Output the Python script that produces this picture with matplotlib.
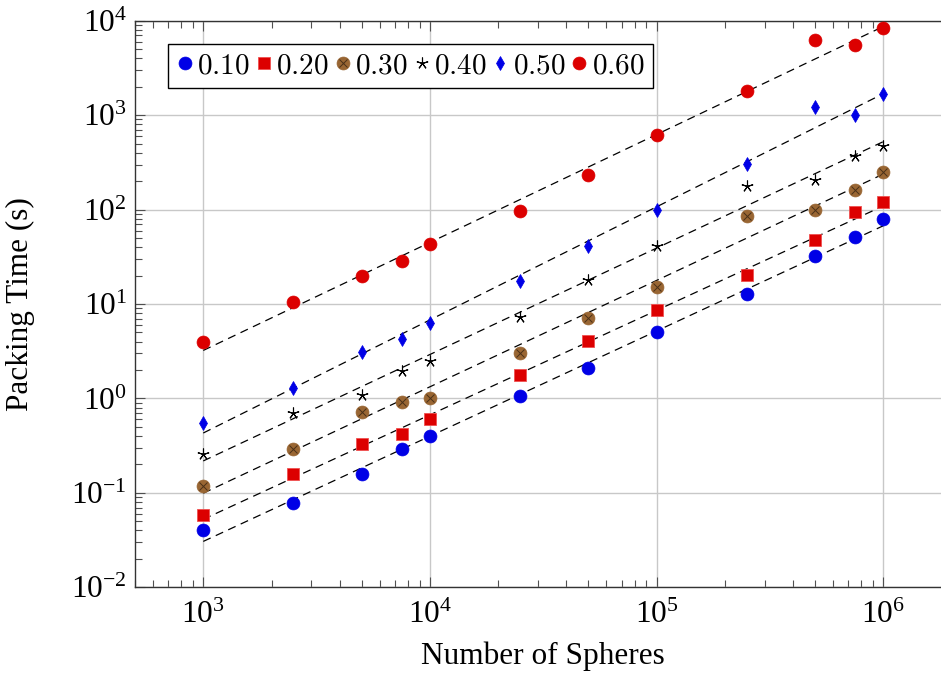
import numpy as np
import matplotlib
matplotlib.use("Agg")
import matplotlib.pyplot as plt
from matplotlib.ticker import (LogLocator, LogFormatterMathtext, NullFormatter,
                               FixedLocator)
from matplotlib.legend_handler import HandlerTuple

plt.rcParams["mathtext.fontset"] = "cm"
plt.rcParams["font.family"] = ["Liberation Serif", "DejaVu Serif"]

# Number of spheres in each packing run
n_spheres = [1000, 2500, 5000, 7500, 10000, 25000, 50000, 100000,
             250000, 500000, 750000, 1000000]

# Packing time (s) for each packing fraction
t_010 = [0.040, 0.079, 0.158, 0.295, 0.40, 1.07, 2.08, 5.1, 12.7, 32.4, 50.7, 80]
t_020 = [0.059, 0.158, 0.326, 0.416, 0.60, 1.78, 4.04, 8.6, 20.2, 47.5, 93.4, 120]
t_030 = [0.119, 0.295, 0.71, 0.906, 1.02, 3.0, 7.1, 15.2, 86, 99.5, 161, 251]
t_040 = [0.257, 0.70, 1.10, 1.96, 2.48, 7.2, 17.9, 41.4, 179, 205, 371, 474]
t_050 = [0.55, 1.28, 3.07, 4.22, 6.32, 17.6, 41, 98.8, 303, 1227, 1002, 1686]
t_060 = [3.98, 10.5, 19.8, 28.5, 43.4, 95.7, 232, 620, 1813, 6250, 5520, 8440]

labels = ["0.10", "0.20", "0.30", "0.40", "0.50", "0.60"]

# decade ticks on each axis
x_ticks = [1e3, 1e4, 1e5, 1e6]
y_ticks = [1e-2, 1e-1, 1e0, 1e1, 1e2, 1e3, 1e4]

BLUE = "#0000e6"
RED = "#dc0000"
BROWN = "#996633"

fig = plt.figure(figsize=(9.41, 6.74), dpi=100)
ax = fig.add_axes([0.1435, 0.1286, 0.8677, 0.8407])
ax.set_xscale("log")
ax.set_yscale("log")
ax.set_xlim(500, 2e6)
ax.set_ylim(1e-2, 1e4)

x = np.array(n_spheres, dtype=float)
series = [t_010, t_020, t_030, t_040, t_050, t_060]

# power-law fit per series (straight line in log-log)
xfit = np.array([x.min(), x.max()])
for ys in series:
    p = np.polyfit(np.log10(x), np.log10(ys), 1)
    ax.plot(xfit, 10 ** np.polyval(p, np.log10(xfit)), color="black",
            lw=0.9, ls=(0, (6.5, 4.5)), zorder=2)

h1, = ax.plot(x, t_010, ls="none", marker="o", ms=9.3, mfc=BLUE, mec=BLUE,
              mew=0.5, zorder=3)
h2, = ax.plot(x, t_020, ls="none", marker="s", ms=8.4, mfc=RED, mec="#f05050",
              mew=0.6, zorder=3)
h3a, = ax.plot(x, t_030, ls="none", marker="o", ms=9.3, mfc=BROWN, mec=BROWN,
               mew=0.5, zorder=3)
h3b, = ax.plot(x, t_030, ls="none", marker="x", ms=5.5, mec="#4a3018",
               mew=0.7, zorder=4)
h4, = ax.plot(x, t_040, ls="none", marker=(5, 2, 0), ms=8.5, mec="black",
              mew=0.8, zorder=3)
h5, = ax.plot(x, t_050, ls="none", marker="d", ms=7.3, mfc=BLUE, mec=BLUE,
              mew=0.5, zorder=3)
h6, = ax.plot(x, t_060, ls="none", marker="o", ms=9.3, mfc=RED, mec=RED,
              mew=0.5, zorder=3)

# grid and ticks
ax.grid(True, which="major", color="#c8c8c8", lw=1.0, zorder=0)
ax.set_axisbelow(True)
ax.xaxis.set_major_locator(FixedLocator(x_ticks))
ax.yaxis.set_major_locator(FixedLocator(y_ticks))
ax.xaxis.set_minor_locator(LogLocator(base=10, subs=np.arange(2, 10), numticks=20))
ax.yaxis.set_minor_locator(LogLocator(base=10, subs=np.arange(2, 10), numticks=20))
ax.xaxis.set_major_formatter(LogFormatterMathtext())
ax.yaxis.set_major_formatter(LogFormatterMathtext())
ax.xaxis.set_minor_formatter(NullFormatter())
ax.yaxis.set_minor_formatter(NullFormatter())
ax.tick_params(which="both", direction="in", top=True, right=True,
               color="#505050", width=0.8)
ax.tick_params(which="major", length=7, labelsize=22.5)
ax.tick_params(axis="x", which="major", pad=10)
ax.tick_params(axis="y", which="major", pad=6)
ax.tick_params(which="minor", length=5)
for s in ax.spines.values():
    s.set_color("#333333")
    s.set_linewidth(1.0)

ax.set_xlabel("Number of Spheres", fontsize=22.5, labelpad=8)
ax.set_ylabel("Packing Time (s)", fontsize=22.5)
ax.yaxis.set_label_coords(-0.122, 0.5)

handles = [h1, h2, (h3a, h3b), h4, h5, h6]
leg = ax.legend(handles, [f"${l}$" for l in labels],
                handler_map={tuple: HandlerTuple(ndivide=1)},
                loc="upper left", bbox_to_anchor=(168 / 941, 1 - 44 / 674),
                bbox_transform=fig.transFigure, borderaxespad=0,
                ncol=6, fontsize=21, handlelength=0.55, handletextpad=0.15,
                columnspacing=0.2, borderpad=0.3, fancybox=False,
                edgecolor="black", framealpha=1.0, numpoints=1)
leg.get_frame().set_linewidth(1.0)

fig.savefig("out.png", dpi=100)
